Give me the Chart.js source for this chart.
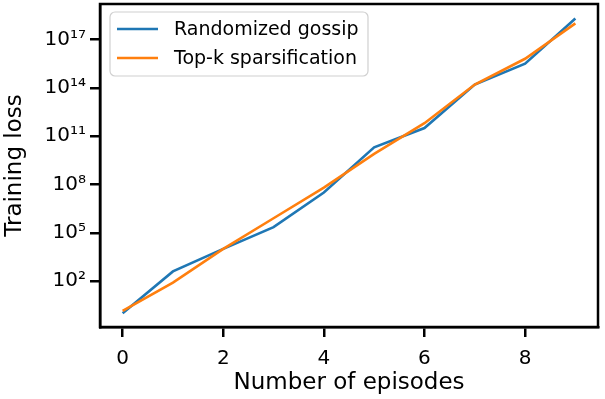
<!DOCTYPE html>
<html>
<head>
<meta charset="utf-8">
<script src="https://cdn.jsdelivr.net/npm/chart.js@4"></script>
<style>
  html, body { margin: 0; padding: 0; background: #fff; }
  #wrap { width: 605px; height: 399px; }
</style>
</head>
<body>
<div id="wrap"><canvas id="myChart" width="605" height="399"></canvas></div>
<script>
// episodes on the x axis
var episodes = [0, 1, 2, 3, 4, 5, 6, 7, 8, 9];
var gossipExp = [0.0, 2.6, 4.0, 5.35, 7.5, 10.3, 11.5, 14.2, 15.5, 18.3];
var topkExp = [0.15, 1.9, 4.0, 5.9, 7.8, 9.9, 11.8, 14.2, 15.8, 18.0];
var seriesNames = ['Randomized gossip', 'Top-k sparsification'];
var seriesColors = ['#1f77b4', '#ff7f0e'];
var xTicks = [0, 2, 4, 6, 8];
var yTickExp = [2, 5, 8, 11, 14, 17];

var FONT = 'DejaVu Sans';
var sup = {'0':'⁰','1':'¹','2':'²','3':'³','4':'⁴','5':'⁵','6':'⁶','7':'⁷','8':'⁸','9':'⁹','-':'⁻'};

function toPoints(exps) {
    return episodes.map(function (e, i) {
        return { x: e, y: Math.pow(10, exps[i]) };
    });
}

// axes frame + legend drawn on top of the plot
var framePlugin = {
    id: 'frame',
    afterDraw: function (chart) {
        var c = chart.ctx, a = chart.chartArea;
        c.save();
        c.strokeStyle = '#000';
        c.lineWidth = 2.5;
        c.strokeRect(a.left, a.top, a.right - a.left, a.bottom - a.top);

        // legend box
        var bx = 110, by = 12, bw = 258, bh = 64, r = 5;
        c.beginPath();
        c.moveTo(bx + r, by);
        c.arcTo(bx + bw, by, bx + bw, by + bh, r);
        c.arcTo(bx + bw, by + bh, bx, by + bh, r);
        c.arcTo(bx, by + bh, bx, by, r);
        c.arcTo(bx, by, bx + bw, by, r);
        c.closePath();
        c.fillStyle = 'rgba(255,255,255,0.8)';
        c.fill();
        c.strokeStyle = '#d0d0d0';
        c.lineWidth = 1.2;
        c.stroke();

        c.font = '19px "' + FONT + '"';
        c.textBaseline = 'middle';
        c.fillStyle = '#000';
        var rows = [29, 58];
        seriesNames.forEach(function (name, i) {
            c.beginPath();
            c.moveTo(117, rows[i]);
            c.lineTo(158, rows[i]);
            c.strokeStyle = seriesColors[i];
            c.lineWidth = 2.6;
            c.stroke();
            c.fillText(name, 174, rows[i] + 1);
        });
        c.restore();
    }
};

var ctx = document.getElementById('myChart').getContext('2d');
var myChart = new Chart(ctx, {
    type: 'line',
    data: {
        datasets: [
            {
                label: seriesNames[0],
                data: toPoints(gossipExp),
                borderColor: seriesColors[0],
                borderWidth: 2.6,
                pointRadius: 0,
                tension: 0,
                order: 2
            },
            {
                label: seriesNames[1],
                data: toPoints(topkExp),
                borderColor: seriesColors[1],
                borderWidth: 2.6,
                pointRadius: 0,
                tension: 0,
                order: 1
            }
        ]
    },
    plugins: [framePlugin],
    options: {
        responsive: false,
        animation: false,
        layout: { padding: { left: 0, right: 7, top: 4, bottom: 0 } },
        plugins: {
            legend: { display: false },
            tooltip: { enabled: false }
        },
        scales: {
            x: {
                type: 'linear',
                min: -0.45,
                max: 9.45,
                afterBuildTicks: function (scale) {
                    scale.ticks = xTicks.map(function (v) { return { value: v }; });
                },
                afterFit: function (scale) {
                    scale.height = 72;
                    scale.paddingLeft = 0;
                    scale.paddingRight = 0;
                },
                grid: { drawOnChartArea: false, drawTicks: true, tickLength: 10, color: '#000', lineWidth: 2.5 },
                border: { display: true, color: '#000', width: 2.5 },
                ticks: {
                    color: '#000',
                    padding: 10,
                    maxRotation: 0,
                    font: { family: FONT, size: 20 }
                },
                title: {
                    display: true,
                    text: 'Number of episodes',
                    color: '#000',
                    padding: { top: 0, bottom: 2 },
                    font: { family: FONT, size: 23 }
                }
            },
            y: {
                type: 'logarithmic',
                min: Math.pow(10, -0.85),
                max: Math.pow(10, 19.2),
                afterBuildTicks: function (scale) {
                    scale.ticks = yTickExp.map(function (e) { return { value: Math.pow(10, e) }; });
                },
                afterFit: function (scale) {
                    scale.width = 100;
                    scale.paddingTop = 0;
                    scale.paddingBottom = 0;
                },
                grid: { drawOnChartArea: false, drawTicks: true, tickLength: 10, color: '#000', lineWidth: 2.5 },
                border: { display: true, color: '#000', width: 2.5 },
                ticks: {
                    color: '#000',
                    padding: 4,
                    font: { family: FONT, size: 20 },
                    callback: function (v) {
                        var e = String(Math.round(Math.log10(v)));
                        return '10' + e.split('').map(function (d) { return sup[d]; }).join('');
                    }
                },
                title: {
                    display: true,
                    text: 'Training loss',
                    color: '#000',
                    padding: { top: 1, bottom: 2 },
                    font: { family: FONT, size: 23 }
                }
            }
        }
    }
});
</script>
</body>
</html>
